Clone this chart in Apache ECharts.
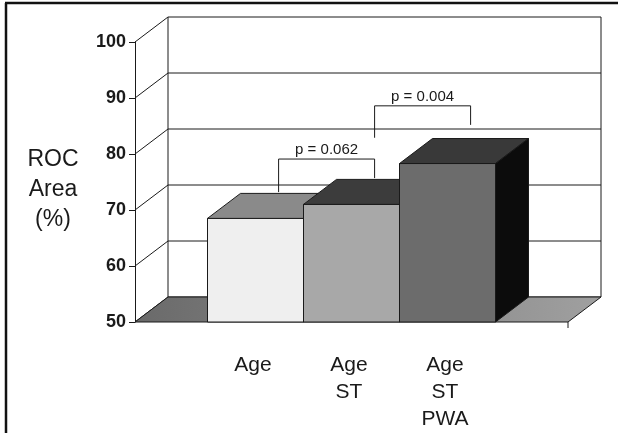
<!DOCTYPE html>
<html><head><meta charset="utf-8">
<script src="https://cdn.jsdelivr.net/npm/echarts@6/dist/echarts.min.js"></script>
<style>html,body{margin:0;padding:0;background:#fff}#c{width:618px;height:433px}</style>
</head><body><div id="c"></div>
<script>
// ---- data ----
const categories = ['Age', 'Age\nST', 'Age\nST\nPWA'];
const rocArea = [68.5, 71.0, 78.3];
const yTicks = [50, 60, 70, 80, 90, 100];
const compFrom = [0, 1];
const compTo = [1, 2];
const compLabels = ['p = 0.062', 'p = 0.004'];
const compTop = [79.1, 88.6];
const compLeftEnd = [73.2, 82.9];
const compRightEnd = [75.7, 85.2];

// ---- style ----
const frontColors = ['#efefef', '#a8a8a8', '#6c6c6c'];
const topColors = ['#8a8a8a', '#3c3c3c', '#393939'];
const sideColors = ['#555555', '#1e1e1e', '#0c0c0c'];
const DX = 33, DY = -25;     // depth offset (px)
const SIDE = 72.5;           // floor extension beyond bar block (px)
const LEG = 0.7;             // bracket legs placed at this depth fraction
const INK = '#1a1a1a';
const FONT = '"Liberation Sans", Arial, sans-serif';

const chart = echarts.init(document.getElementById('c'));
const yMin = yTicks[0], yMax = yTicks[yTicks.length - 1];

function wallItem(params, api) {
  const cs = params.coordSys;
  const y = api.coord([0, api.value(1)])[1];
  const x0 = cs.x - SIDE, x1 = cs.x + cs.width + SIDE;
  return {type: 'group', children: [
    {type: 'line', shape: {x1: x0, y1: y, x2: x0 + DX, y2: y + DY}, style: {stroke: INK, lineWidth: 1}},
    {type: 'line', shape: {x1: x0 + DX, y1: y + DY, x2: x1 + DX, y2: y + DY}, style: {stroke: INK, lineWidth: 1}}
  ]};
}

function boxItem(params, api) {
  const cs = params.coordSys;
  const yb = api.coord([0, yMin])[1];
  const yt = api.coord([0, yMax])[1];
  const x0 = cs.x - SIDE, x1 = cs.x + cs.width + SIDE;
  return {type: 'group', children: [
    {type: 'line', shape: {x1: x0 + DX, y1: yt + DY, x2: x0 + DX, y2: yb + DY}, style: {stroke: INK, lineWidth: 1}},
    {type: 'line', shape: {x1: x1 + DX, y1: yt + DY, x2: x1 + DX, y2: yb + DY}, style: {stroke: INK, lineWidth: 1}},
    {type: 'polygon', shape: {points: [[x0, yb], [x0 + DX, yb + DY], [x1 + DX, yb + DY], [x1, yb]]},
      style: {fill: new echarts.graphic.LinearGradient(0, 0, 1, 0, [{offset: 0, color: '#6a6a6a'}, {offset: 1, color: '#a0a0a0'}]),
        stroke: INK, lineWidth: 1}},
    {type: 'line', shape: {x1: x1, y1: yb, x2: x1, y2: yb + 6}, style: {stroke: INK, lineWidth: 1}}
  ]};
}

function barItem(params, api) {
  const i = api.value(0), v = api.value(1);
  const top = api.coord([i, v]);
  const yb = api.coord([i, yMin])[1];
  const w = api.size([1, 0])[0];
  const xl = top[0] - w / 2, xr = top[0] + w / 2, yt = top[1];
  const st = {stroke: INK, lineWidth: 1};
  return {type: 'group', children: [
    {type: 'polygon', shape: {points: [[xl, yb], [xl, yt], [xr, yt], [xr, yb]]}, style: Object.assign({fill: frontColors[i]}, st)},
    {type: 'polygon', shape: {points: [[xl, yt], [xl + DX, yt + DY], [xr + DX, yt + DY], [xr, yt]]}, style: Object.assign({fill: topColors[i]}, st)},
    {type: 'polygon', shape: {points: [[xr, yb], [xr, yt], [xr + DX, yt + DY], [xr + DX, yb + DY]]}, style: Object.assign({fill: sideColors[i]}, st)}
  ]};
}

function bracketItem(params, api) {
  const k = params.dataIndex;
  const a = api.value(0), b = api.value(1);
  const yTop = api.coord([a, api.value(2)])[1];
  const yl = api.coord([a, api.value(3)])[1];
  const yr = api.coord([b, api.value(4)])[1];
  const xa = api.coord([a, yMin])[0] + LEG * DX;
  const xb = api.coord([b, yMin])[0] + LEG * DX;
  const st = {stroke: INK, lineWidth: 1};
  return {type: 'group', children: [
    {type: 'polyline', shape: {points: [[xa, yl], [xa, yTop], [xb, yTop], [xb, yr]]}, style: Object.assign({fill: 'none'}, st)},
    {type: 'text', x: (xa + xb) / 2, y: yTop - 9,
      style: {text: compLabels[k], align: 'center', verticalAlign: 'middle', font: '15px ' + FONT, fill: INK}}
  ]};
}

chart.setOption({
  animation: false,
  backgroundColor: '#fff',
  grid: {left: 207.5, right: 122.5, top: 42, bottom: 111},
  xAxis: {
    type: 'category', data: categories,
    axisLine: {show: false}, axisTick: {show: false},
    axisLabel: {fontSize: 21, lineHeight: 27, margin: 30, color: INK, fontFamily: FONT, padding: [0, 5, 0, 0]}
  },
  yAxis: {
    type: 'value', min: yMin, max: yMax, interval: 10, offset: SIDE,
    axisLine: {show: true, lineStyle: {color: INK, width: 1}},
    axisTick: {show: true, length: 6, lineStyle: {color: INK}},
    axisLabel: {fontSize: 18, fontWeight: 'bold', color: INK, margin: 9, fontFamily: FONT},
    splitLine: {show: false}
  },
  graphic: [
    {type: 'text', x: 53, y: 190, style: {text: 'ROC\nArea\n(%)', font: '23px ' + FONT, align: 'center', verticalAlign: 'middle', lineHeight: 30, fill: INK}},
    {type: 'line', shape: {x1: 5, y1: 3, x2: 618, y2: 3}, style: {stroke: '#111', lineWidth: 2.5}},
    {type: 'line', shape: {x1: 6, y1: 3, x2: 6, y2: 433}, style: {stroke: '#111', lineWidth: 2.5}}
  ],
  series: [
    {type: 'custom', z: 1, renderItem: wallItem, encode: {x: 0, y: 1}, data: yTicks.map(v => [0, v]), silent: true},
    {type: 'custom', z: 2, renderItem: boxItem, encode: {x: 0, y: 1}, data: [[0, yMin]], silent: true},
    {type: 'custom', z: 3, renderItem: barItem, encode: {x: 0, y: 1}, data: rocArea.map((v, i) => [i, v])},
    {type: 'custom', z: 4, renderItem: bracketItem, encode: {x: 0, y: 2},
      data: compFrom.map((f, k) => [f, compTo[k], compTop[k], compLeftEnd[k], compRightEnd[k]])}
  ]
});
</script>
</body></html>
